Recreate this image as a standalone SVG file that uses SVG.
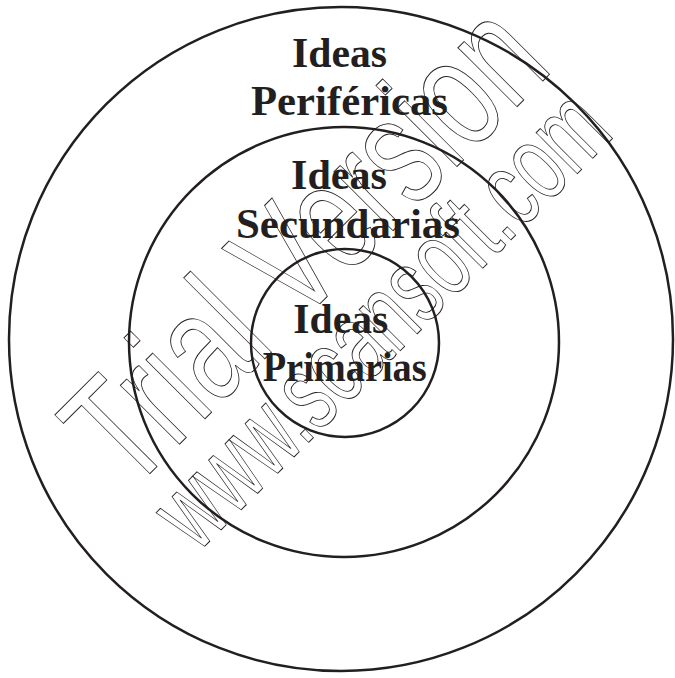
<svg xmlns="http://www.w3.org/2000/svg" width="675" height="678" viewBox="0 0 675 678">
<style>
.ring{fill:none;stroke:#231f20;stroke-width:2.5}
.lbl{font-family:"Liberation Serif","Times New Roman",serif;font-weight:bold;font-size:42px;fill:#231f20;text-anchor:middle}
.wm{font-family:"Liberation Sans",Arial,sans-serif;fill:none;stroke:#231f20;stroke-width:1}
</style>
<rect width="675" height="678" fill="#ffffff"/>
<g id="perifericas">
<circle class="ring" cx="341" cy="339" r="332"/>
<text class="lbl" x="339.5" y="67" textLength="95" lengthAdjust="spacingAndGlyphs">Ideas</text>
<text class="lbl" x="349.5" y="115" textLength="197" lengthAdjust="spacingAndGlyphs">Periféricas</text>
</g>
<g id="secundarias">
<circle class="ring" cx="344" cy="342" r="215"/>
<text class="lbl" x="339" y="189" textLength="96" lengthAdjust="spacingAndGlyphs">Ideas</text>
<text class="lbl" x="348" y="238" textLength="224" lengthAdjust="spacingAndGlyphs">Secundarias</text>
</g>
<g id="primarias">
<circle class="ring" cx="345" cy="343" r="94"/>
<text class="lbl" x="340.8" y="333" textLength="95" lengthAdjust="spacingAndGlyphs">Ideas</text>
<text class="lbl" x="344.7" y="381" textLength="164" lengthAdjust="spacingAndGlyphs">Primarias</text>
</g>
<g id="watermark" transform="rotate(-45)">
<text class="wm" x="-257" y="441" font-size="158" textLength="600" lengthAdjust="spacingAndGlyphs">Trial Version</text>
<text class="wm" x="-252" y="531" font-size="110" textLength="592" lengthAdjust="spacingAndGlyphs">www.scansoft.com</text>
</g>
</svg>
